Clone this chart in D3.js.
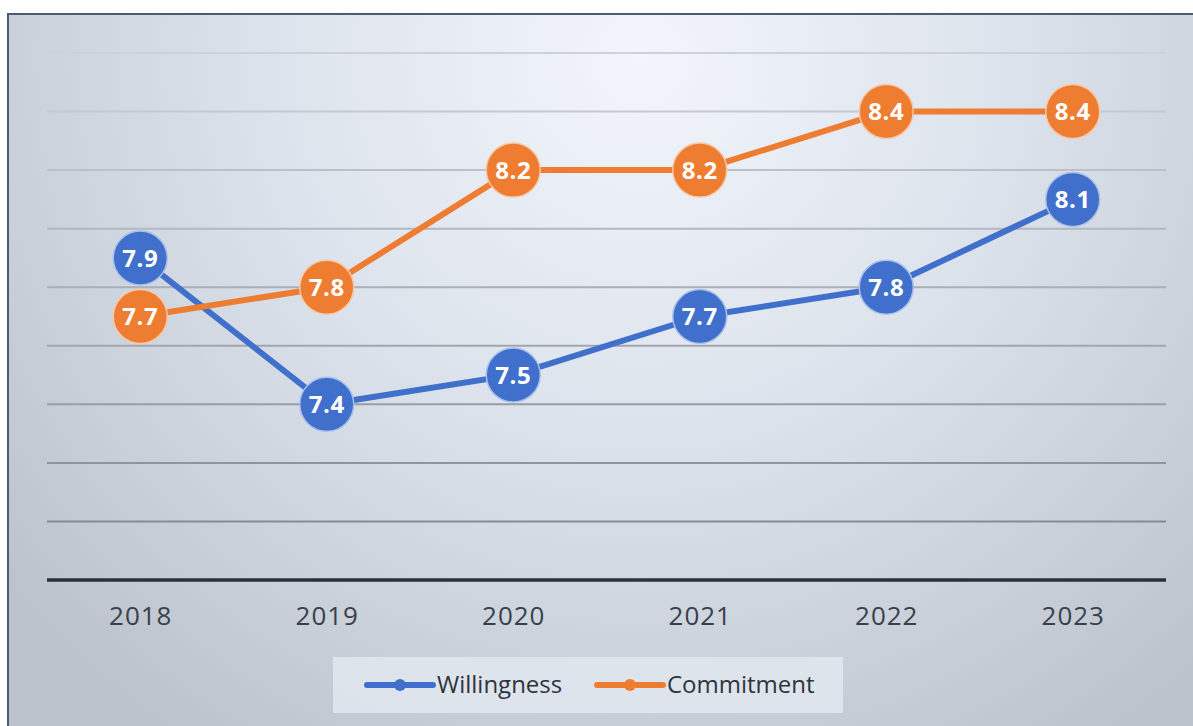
<!DOCTYPE html>
<html>
<head>
<meta charset="utf-8">
<script src="https://cdn.jsdelivr.net/npm/d3@7"></script>
<style>
    body { margin: 0; background: #fff; }
    svg { display: block; }
</style>
</head>
<body>
<script>
// Chart data
var years = ["2018", "2019", "2020", "2021", "2022", "2023"];
var willingness = [7.9, 7.4, 7.5, 7.7, 7.8, 8.1];
var commitment = [7.7, 7.8, 8.2, 8.2, 8.4, 8.4];
var gridTicks = [6.8, 7.0, 7.2, 7.4, 7.6, 7.8, 8.0, 8.2, 8.4, 8.6];
var seriesNames = ["Willingness", "Commitment"];

var W = 1193, H = 726;
var plot = {left: 47, right: 1166, top: 53, bottom: 580};

var svg = d3.select("body").append("svg")
    .attr("width", W)
    .attr("height", H);

// background gradient, light in the upper middle, greyer at the edges
var defs = svg.append("defs");
var grad = defs.append("radialGradient")
    .attr("id", "bg")
    .attr("gradientUnits", "userSpaceOnUse")
    .attr("cx", 640).attr("cy", 60).attr("r", 820)
    .attr("fx", 640).attr("fy", 60);
grad.append("stop").attr("offset", "0%").attr("stop-color", "#f2f5fb");
grad.append("stop").attr("offset", "45%").attr("stop-color", "#dde3ec");
grad.append("stop").attr("offset", "100%").attr("stop-color", "#bcc3cc");

svg.append("rect")
    .attr("x", 8).attr("y", 14)
    .attr("width", W).attr("height", H)
    .attr("fill", "url(#bg)");

// frame (only top and left are visible)
svg.append("path")
    .attr("d", "M8," + H + "V14H" + W)
    .attr("fill", "none")
    .attr("stroke", "#4a5b72")
    .attr("stroke-width", 2);

var xScale = d3.scalePoint()
    .domain(years)
    .range([plot.left, plot.right])
    .padding(0.5);

var yScale = d3.scaleLinear()
    .domain([6.8, 8.6])
    .range([plot.bottom, plot.top]);

// gridlines, lighter towards the top
var gridColor = d3.scaleLinear()
    .domain([plot.top, plot.bottom])
    .range(["#cdd2da", "#7d838c"]);

svg.append("g")
    .selectAll("line")
    .data(gridTicks.slice(1))
    .enter()
    .append("line")
    .attr("x1", plot.left)
    .attr("x2", plot.right)
    .attr("y1", function(d) { return yScale(d); })
    .attr("y2", function(d) { return yScale(d); })
    .attr("stroke", function(d) { return gridColor(yScale(d)); })
    .attr("stroke-width", 2);

// x axis
var xAxis = d3.axisBottom(xScale).tickSize(0).tickPadding(27);
var gx = svg.append("g")
    .attr("transform", "translate(0," + yScale(gridTicks[0]) + ")")
    .call(xAxis);
gx.select(".domain")
    .attr("d", "M" + plot.left + ",0H" + plot.right)
    .attr("stroke", "#2b3038")
    .attr("stroke-width", 3.5);
gx.selectAll("text")
    .attr("font-family", "'Open Sans', sans-serif")
    .attr("font-size", "26px")
    .attr("letter-spacing", "1px")
    .attr("fill", "#3a404a");

var colors = ["#4070cc", "#ee7d31"];
var rings = ["#a9c0ea", "#f7c9a6"];
var allSeries = [willingness, commitment];

var line = d3.line()
    .x(function(d, i) { return xScale(years[i]); })
    .y(function(d) { return yScale(d); });

allSeries.forEach(function(values, s) {
    var g = svg.append("g");
    g.append("path")
        .datum(values)
        .attr("d", line)
        .attr("fill", "none")
        .attr("stroke", colors[s])
        .attr("stroke-width", 6)
        .attr("stroke-linejoin", "round");
});

// markers with labels drawn on top of both lines
allSeries.forEach(function(values, s) {
    var pts = svg.append("g")
        .selectAll("g")
        .data(values)
        .enter()
        .append("g")
        .attr("transform", function(d, i) {
            return "translate(" + xScale(years[i]) + "," + yScale(d) + ")";
        });
    pts.append("circle")
        .attr("r", 27)
        .attr("fill", colors[s])
        .attr("stroke", rings[s])
        .attr("stroke-width", 1.5);
    pts.append("text")
        .text(function(d) { return d.toFixed(1); })
        .attr("text-anchor", "middle")
        .attr("dy", "0.36em")
        .attr("font-family", "'Open Sans', sans-serif")
        .attr("font-weight", "bold")
        .attr("font-size", "24px")
        .attr("letter-spacing", "0.5px")
        .attr("fill", "#ffffff");
});

// legend
var legend = svg.append("g");
legend.append("rect")
    .attr("x", 333).attr("y", 657)
    .attr("width", 510).attr("height", 56)
    .attr("fill", "#e2e7ee")
    .attr("opacity", 0.85);

var legendX = [367, 597];
seriesNames.forEach(function(name, s) {
    var item = legend.append("g")
        .attr("transform", "translate(" + legendX[s] + ",685)");
    item.append("line")
        .attr("x1", 0).attr("x2", 66)
        .attr("stroke", colors[s])
        .attr("stroke-width", 6)
        .attr("stroke-linecap", "round");
    item.append("circle")
        .attr("cx", 33)
        .attr("r", 6)
        .attr("fill", colors[s]);
    item.append("text")
        .text(name)
        .attr("x", 70)
        .attr("dy", "0.35em")
        .attr("font-family", "'Open Sans', sans-serif")
        .attr("font-size", "24px")
        .attr("fill", "#2e343d");
});
</script>
</body>
</html>
